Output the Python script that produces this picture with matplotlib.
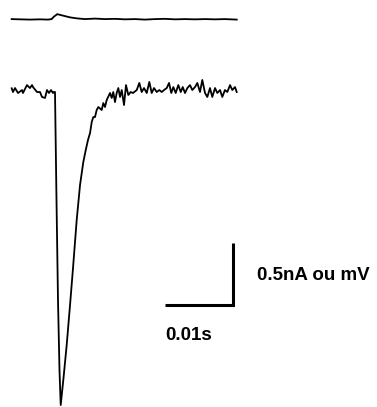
import matplotlib
matplotlib.use("Agg")
import matplotlib.pyplot as plt

# Membrane current (nA) recorded during the evoked response, time in ms
current_t = [0.10, 0.29, 0.59, 1.03, 1.62, 1.76, 2.35, 2.79, 3.09, 3.24, 3.82, 4.26,
             4.56, 5.00, 5.29, 5.59, 5.88, 6.18, 6.32, 6.47, 6.69, 6.91, 7.13, 7.31,
             7.72, 8.19, 8.68, 9.12, 9.66, 10.15, 10.63, 10.99, 11.32, 11.62, 11.87,
             12.10, 12.35, 12.60, 12.84, 13.34, 13.57, 13.82, 14.07, 14.56, 14.81, 15.04,
             15.29, 15.54, 15.78, 16.03, 16.28, 16.62, 16.91, 17.25, 17.60, 17.94, 18.49,
             18.87, 19.22, 19.56, 19.96, 20.34, 20.69, 21.03, 21.43, 21.81, 22.16, 22.50,
             22.90, 23.24, 23.57, 23.87, 24.22, 24.60, 24.96, 25.25, 25.59, 25.93, 26.32,
             26.66, 27.06, 27.40, 27.79, 28.13, 28.53, 28.87, 29.26, 29.60, 30.00, 30.34,
             30.74, 31.07, 31.46, 31.81, 32.21, 32.54, 32.94, 33.19]
current_nA = [0.022, -0.008, 0.024, -0.016, 0.008, -0.016, 0.048, 0.024, 0.048, 0.032,
              -0.008, -0.008, -0.048, -0.056, 0.008, -0.016, 0.008, -0.016, -0.008,
              -0.008, -0.879, -1.685, -2.250, -2.532, -2.315, -2.048, -1.726, -1.427,
              -1.040, -0.758, -0.573, -0.476, -0.395, -0.339, -0.250, -0.210,
              -0.210, -0.153, -0.129, -0.153, -0.097, -0.129, -0.073, -0.016, -0.056,
              -0.008, -0.089, -0.016, 0.024, -0.048, 0.008, -0.113, 0.048, -0.032,
              -0.008, -0.016, 0.008, 0.065, -0.008, 0.024, -0.016, 0.073, -0.016, 0.024,
              -0.008, 0.008, -0.008, 0.008, 0.024, 0.065, -0.016, 0.032, -0.016, 0.048,
              -0.008, 0.032, -0.016, 0.024, 0.048, 0.008, 0.032, 0.065, -0.008, 0.089,
              -0.016, -0.048, 0.024, -0.048, 0.024, -0.016, 0.008, -0.048, 0.008,
              -0.008, 0.048, 0.008, 0.032, -0.008]

# Simultaneous voltage trace (mV)
voltage_t = [0.10, 1.32, 2.79, 4.26, 5.44, 5.97, 6.32, 6.81, 7.21, 7.94, 8.68, 9.66,
             10.88, 12.35, 13.82, 15.29, 16.76, 18.24, 19.71, 21.18, 22.65, 24.12,
             25.59, 27.06, 28.53, 30.00, 31.46, 33.19]
voltage_mV = [0.000, -0.002, -0.004, -0.002, -0.004, 0.000, 0.020, 0.040, 0.034,
              0.024, 0.014, 0.006, 0.000, 0.004, 0.000, 0.002, -0.002, 0.000, -0.004,
              0.000, 0.002, -0.002, 0.000, -0.002, 0.000, -0.002, 0.000, -0.004]
voltage_offset = 0.58

# Scale bar: 10 ms horizontally, 0.5 nA (or mV) vertically
bar_time_ms = 10.0
bar_amp = 0.5
bar_label_time = "0.01s"
bar_label_amp = "0.5nA ou mV"

fig = plt.figure(figsize=(3.77, 4.07), dpi=100)
ax = fig.add_axes([0, 0, 1, 1])
ax.set_xlim(-1.618, 53.82)
ax.set_ylim(-2.548, 0.734)
ax.axis("off")

ax.plot(voltage_t, [v + voltage_offset for v in voltage_mV], color="black", lw=1.3,
        solid_joinstyle="round")
ax.plot(current_t, current_nA, color="black", lw=1.3, solid_joinstyle="round")

bar_x1 = 32.65
bar_x0 = bar_x1 - bar_time_ms
bar_y0 = -1.726
ax.plot([bar_x0, bar_x1, bar_x1], [bar_y0, bar_y0, bar_y0 + bar_amp], color="black",
        lw=2.2, solid_joinstyle="miter", solid_capstyle="butt")

font = dict(family="Liberation Sans", weight="bold", size=13.5)
ax.text(36.13, -1.524, bar_label_amp, ha="left", va="baseline", **font)
ax.text((bar_x0 + bar_x1) / 2 - 1.6, -2.008, bar_label_time, ha="center",
        va="baseline", **font)

fig.savefig("out.png", dpi=100)
